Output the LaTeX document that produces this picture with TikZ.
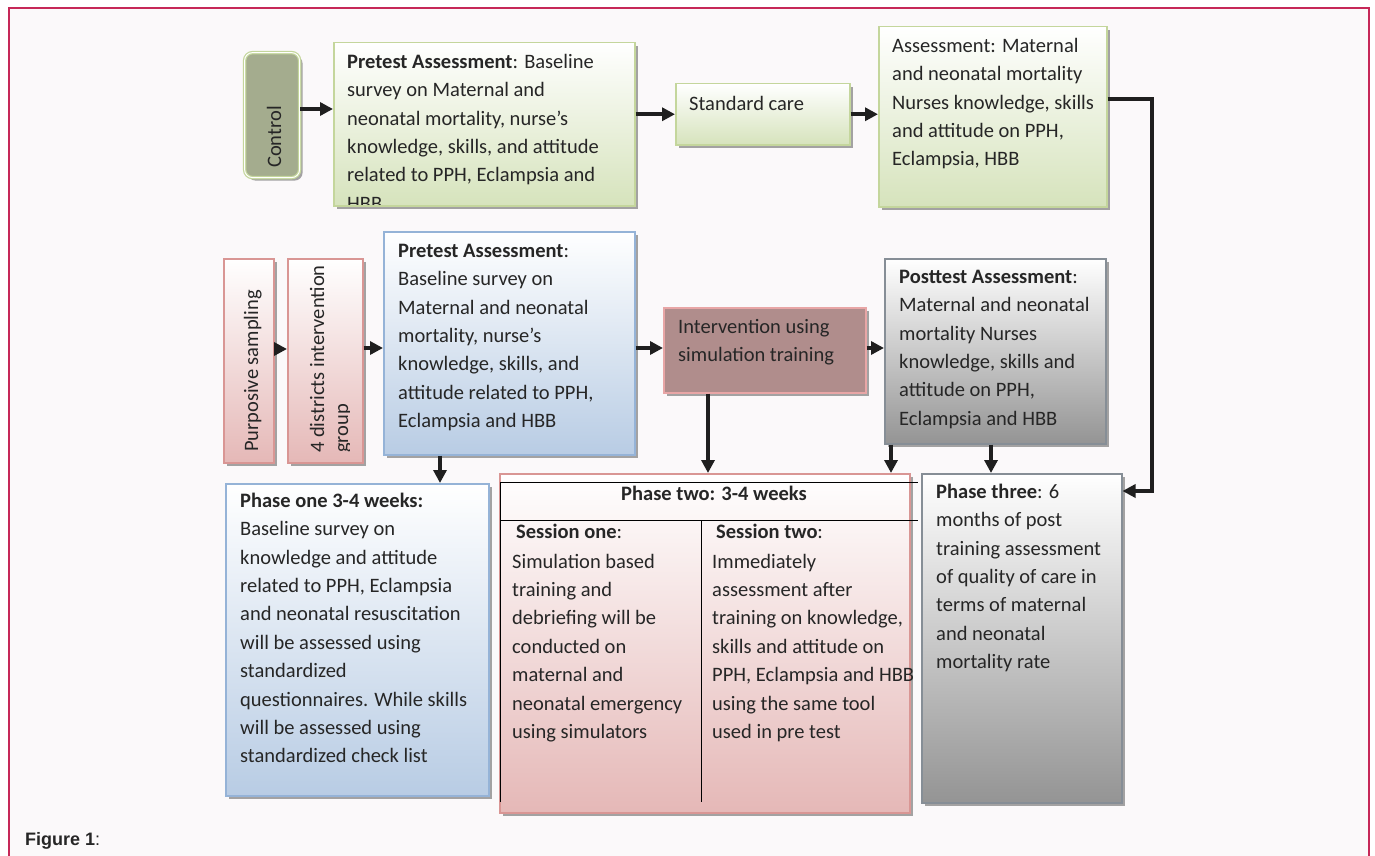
\documentclass[tikz,border=0pt]{standalone}
\usepackage{fontspec}
\setmainfont{Carlito}
\newfontfamily\arialf{Liberation Sans}
\usetikzlibrary{arrows.meta,shadows}

\definecolor{bgc}{RGB}{251,249,250}
\definecolor{framec}{RGB}{198,40,88}
\definecolor{txtc}{RGB}{38,38,38}
\definecolor{gB}{RGB}{196,214,156}
\definecolor{gF}{RGB}{214,227,188}
\definecolor{bB}{RGB}{149,179,215}
\definecolor{bF}{RGB}{184,204,228}
\definecolor{pB}{RGB}{217,150,148}
\definecolor{pF}{RGB}{229,184,183}
\definecolor{kB}{RGB}{134,142,150}
\definecolor{kF}{RGB}{148,148,148}
\definecolor{ctrlF}{RGB}{164,172,142}
\definecolor{intF}{RGB}{176,141,140}
\definecolor{intB}{RGB}{232,166,166}

\newcommand\fl{\rule{0pt}{20pt}}

\tikzset{
  box/.style={anchor=north west, inner sep=0pt, line width=1.5pt,
    drop shadow={shadow xshift=3pt, shadow yshift=-3pt, fill=black, opacity=0.35}},
  gbox/.style={box, draw=gB, top color=white, bottom color=gF},
  bbox/.style={box, draw=bB, top color=white, bottom color=bF},
  pbox/.style={box, draw=pB, top color=white, bottom color=pF},
  kbox/.style={box, draw=kB, top color=white, bottom color=kF},
  txtn/.style={anchor=north west, inner sep=0pt, align=left, text=txtc,
    font=\fontsize{20.5}{28.4}\selectfont},
  rtxt/.style={anchor=base west, inner sep=0pt, rotate=90, text=txtc,
    font=\fontsize{20.5}{24}\selectfont},
  arr/.style={line width=3.6pt, draw=black!88, line join=miter,
    -{Triangle[length=13pt,width=13pt]}},
  tabline/.style={line width=1pt, draw=black},
}

\begin{document}
\begin{tikzpicture}[x=1pt,y=-1pt]
\useasboundingbox (0,0) rectangle (1375,856);
\fill[white] (0,0) rectangle (1375,856);
\fill[bgc] (9,8) rectangle (1369,856);
\draw[framec, line width=1.8pt] (9,856) -- (9,8) -- (1369,8) -- (1369,856);

% boxes
\node[box, rounded corners=8pt, draw=gB, line width=1.2pt, double=white, double distance=1pt,
  fill=ctrlF, minimum width=55pt, minimum height=125pt] (ctrl) at (244,52) {};
\node[gbox, minimum width=301pt, minimum height=163pt] (pre1) at (333,42) {};
\node[gbox, minimum width=174pt, minimum height=61pt] (std) at (675,83) {};
\node[gbox, minimum width=228pt, minimum height=180pt] (ass) at (878,26) {};
\node[pbox, minimum width=50pt, minimum height=204pt] (purp) at (223,258) {};
\node[pbox, minimum width=75pt, minimum height=204pt] (dist) at (287,258) {};
\node[bbox, minimum width=251pt, minimum height=223pt] (pre2) at (383,231) {};
\node[box, draw=intB, fill=intF, minimum width=202pt, minimum height=85pt] (interv) at (663,307) {};
\node[kbox, minimum width=221pt, minimum height=185pt] (post) at (884,258) {};
\node[bbox, minimum width=263pt, minimum height=312pt] (ph1) at (225,483) {};
\node[pbox, minimum width=410pt, minimum height=339pt] (ph2) at (499,473) {};
\node[kbox, minimum width=200pt, minimum height=329pt] (ph3) at (921,473) {};

% texts
\node[rtxt] (tctrl) at (281,168) {Control};
\begin{scope}
\clip (334,43) rectangle (633,204);
\node[txtn] (tpre1) at (347,48) {\fl\textbf{Pretest Assessment}: Baseline\\survey on Maternal and\\neonatal mortality, nurse’s\\knowledge, skills, and attitude\\related to PPH, Eclampsia and\\HBB};
\end{scope}
\node[txtn] (tstd) at (689,90) {\fl Standard care};
\node[txtn] (tass) at (892,32) {\fl Assessment: Maternal\\and neonatal mortality\\Nurses knowledge, skills\\and attitude on PPH,\\Eclampsia, HBB};

\node[rtxt] (tpurp) at (258,452) {Purposive sampling};
\begin{scope}
\clip (288,259) rectangle (349,461);
\node[rtxt, anchor=north west, align=left] (tdist) at (304,453) {\fl 4 districts intervention\\group};
\end{scope}
\node[txtn] (tpre2) at (398,237) {\fl\textbf{Pretest Assessment}:\\Baseline survey on\\Maternal and neonatal\\mortality, nurse’s\\knowledge, skills, and\\attitude related to PPH,\\Eclampsia and HBB};
\node[txtn] (tint) at (678,313) {\fl Intervention using\\simulation training};
\node[txtn] (tpost) at (899,263) {\fl\textbf{Posttest Assessment}:\\Maternal and neonatal\\mortality Nurses\\knowledge, skills and\\attitude on PPH,\\Eclampsia and HBB};

\node[txtn] (tph1) at (240,487) {\fl\textbf{Phase one 3-4 weeks:}\\Baseline survey on\\knowledge and attitude\\related to PPH, Eclampsia\\and neonatal resuscitation\\will be assessed using\\standardized\\questionnaires. While skills\\will be assessed using\\standardized check list};

% phase two table
\draw[tabline] (500,482) -- (918,482);
\draw[tabline] (500,520) -- (918,520);
\draw[tabline] (500,482) -- (500,802);
\draw[tabline] (701,520) -- (701,802);
\node[anchor=base, inner sep=0pt, text=txtc, font=\fontsize{20.5}{28.4}\selectfont] (tph2) at (714,500) {\textbf{Phase two: 3-4 weeks}};
\node[txtn] (ts1) at (512,518) {\fl\hspace{4pt}\textbf{Session one}:\\[1.5pt]Simulation based\\training and\\debriefing will be\\conducted on\\maternal and\\neonatal emergency\\using simulators};
\node[txtn] (ts2) at (712,518) {\fl\hspace{4pt}\textbf{Session two}:\\[1.5pt]Immediately\\assessment after\\training on knowledge,\\skills and attitude on\\PPH, Eclampsia and HBB\\using the same tool\\used in pre test};

\node[txtn] (tph3) at (936,478) {\fl\textbf{Phase three}: 6\\months of post\\training assessment\\of quality of care in\\terms of maternal\\and neonatal\\mortality rate};

\node[anchor=base west, inner sep=0pt, text=txtc, font=\arialf\fontsize{18}{20}\selectfont] (fig) at (25,845) {\textbf{Figure 1}:};

% connectors
\coordinate (k) at (1152,491);
\draw[arr] (ctrl.east |- 0,109) -- (pre1.west |- 0,109);
\draw[arr] (pre1.east |- std.west) -- (std.west);
\draw[arr] (std.east) -- (ass.west |- std.east);
\draw[arr] (ass.east |- 0,99) -| (k) -- (ph3.east |- k);
\draw[arr] (purp.east |- 0,349) -- (dist.west |- 0,349);
\draw[arr] (dist.east |- 0,348) -- (pre2.west |- 0,348);
\draw[arr] (pre2.east |- 0,348) -- (interv.west |- 0,348);
\draw[arr] (interv.east |- 0,348) -- (post.west |- 0,348);
\draw[arr] (pre2.south -| 440,0) -- (ph1.north -| 440,0);
\draw[arr] (interv.south -| 708,0) -- (ph2.north -| 708,0);
\draw[arr] (post.south -| 891,0) -- (ph2.north -| 891,0);
\draw[arr] (post.south -| 991,0) -- (ph3.north -| 991,0);
\end{tikzpicture}
\end{document}
